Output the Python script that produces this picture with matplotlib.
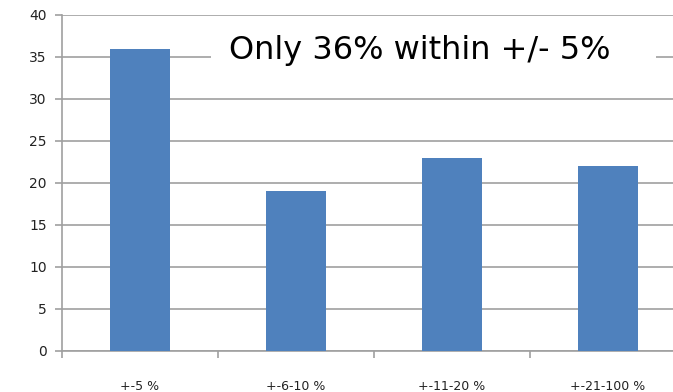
import matplotlib
matplotlib.use("Agg")
import matplotlib.pyplot as plt
from matplotlib.patches import Rectangle
import numpy as np

categories = ["+-5 %", "+-6-10 %", "+-11-20 %", "+-21-100 %"]
values = [36, 19, 23, 22]
yticks = [0, 5, 10, 15, 20, 25, 30, 35, 40]

W, H = 673, 392
fig = plt.figure(figsize=(W / 100, H / 100), dpi=100)
left, right = 62, 686
bottom, top = 351, 15
ax = fig.add_axes([left / W, (H - bottom) / H, (right - left) / W, (bottom - top) / H])

x = np.arange(len(categories))
ax.bar(x, values, width=0.385, color="#4F81BD", zorder=3)
ax.set_xlim(-0.5, len(categories) - 0.5)
ax.set_ylim(0, 40)
ax.set_yticks(yticks)
ax.set_yticklabels([str(v) for v in yticks], fontsize=10, color="#222222")
ax.yaxis.grid(True, color="#A0A0A0", linewidth=1.2, zorder=0)
ax.set_axisbelow(True)

ax.set_xticks(np.arange(-0.5, len(categories) + 0.5, 1.0), minor=False)
ax.set_xticklabels([])
ax.set_xticks(x, minor=True)
ax.set_xticklabels(categories, minor=True, fontsize=9, color="#222222")
ax.tick_params(axis="x", which="minor", length=0, pad=21)
ax.tick_params(axis="x", which="major", length=5, color="#A0A0A0", width=1.2)
ax.tick_params(axis="y", length=5, color="#A0A0A0", width=1.2, pad=6)

for s in ["top", "right"]:
    ax.spines[s].set_visible(False)
ax.spines["left"].set_color("#A0A0A0")
ax.spines["bottom"].set_color("#A0A0A0")
ax.spines["left"].set_linewidth(1.2)
ax.spines["bottom"].set_linewidth(1.2)

# white text box covering the 35 gridline
fig.patches.append(Rectangle((211 / W, 1 - 75 / H), (656 - 211) / W, 40 / H,
                             transform=fig.transFigure, facecolor="white",
                             edgecolor="none", zorder=4))
fig.text(420 / W, 1 - 51 / H, "Only 36% within +/- 5%", fontsize=23, ha="center", va="center",
         color="black", zorder=5)

fig.savefig("out.png", dpi=100)
